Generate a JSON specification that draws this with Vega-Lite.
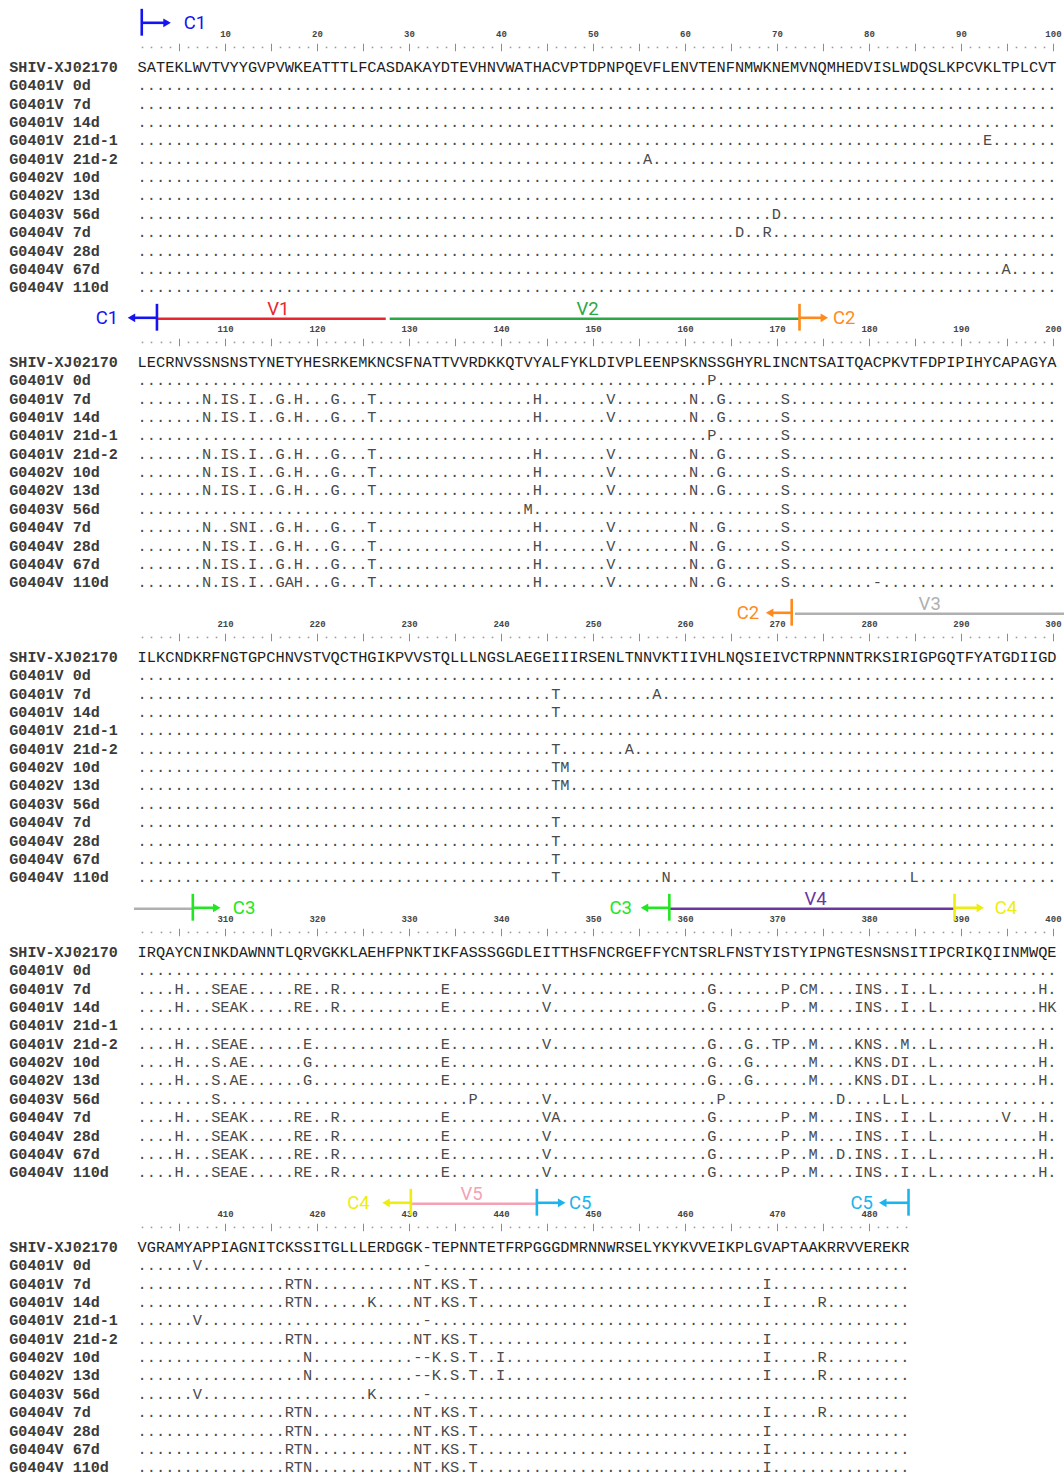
{
  "$schema": "https://vega.github.io/schema/vega-lite/v6.json",
  "padding": {"left": 0, "top": 2.4, "right": 0, "bottom": 0},
  "background": "white",
  "spacing": 0,
  "bounds": "flush",
  "config": {"view": {"stroke": null}},
  "datasets": {
    "rows": [
      {"block": 1, "row": 0, "start": 1, "name": "SHIV-XJ02170", "seq": "SATEKLWVTVYYGVPVWKEATTTLFCASDAKAYDTEVHNVWATHACVPTDPNPQEVFLENVTENFNMWKNEMVNQMHEDVISLWDQSLKPCVKLTPLCVT"},
      {"block": 1, "row": 1, "start": 1, "name": "G0401V 0d", "seq": "...................................................................................................."},
      {"block": 1, "row": 2, "start": 1, "name": "G0401V 7d", "seq": "...................................................................................................."},
      {"block": 1, "row": 3, "start": 1, "name": "G0401V 14d", "seq": "...................................................................................................."},
      {"block": 1, "row": 4, "start": 1, "name": "G0401V 21d-1", "seq": "............................................................................................E......."},
      {"block": 1, "row": 5, "start": 1, "name": "G0401V 21d-2", "seq": ".......................................................A............................................"},
      {"block": 1, "row": 6, "start": 1, "name": "G0402V 10d", "seq": "...................................................................................................."},
      {"block": 1, "row": 7, "start": 1, "name": "G0402V 13d", "seq": "...................................................................................................."},
      {"block": 1, "row": 8, "start": 1, "name": "G0403V 56d", "seq": ".....................................................................D.............................."},
      {"block": 1, "row": 9, "start": 1, "name": "G0404V 7d", "seq": ".................................................................D..R..............................."},
      {"block": 1, "row": 10, "start": 1, "name": "G0404V 28d", "seq": "...................................................................................................."},
      {"block": 1, "row": 11, "start": 1, "name": "G0404V 67d", "seq": "..............................................................................................A....."},
      {"block": 1, "row": 12, "start": 1, "name": "G0404V 110d", "seq": "...................................................................................................."},

      {"block": 2, "row": 0, "start": 101, "name": "SHIV-XJ02170", "seq": "LECRNVSSNSNSTYNETYHESRKEMKNCSFNATTVVRDKKQTVYALFYKLDIVPLEENPSKNSSGHYRLINCNTSAITQACPKVTFDPIPIHYCAPAGYA"},
      {"block": 2, "row": 1, "start": 101, "name": "G0401V 0d", "seq": "..............................................................P....................................."},
      {"block": 2, "row": 2, "start": 101, "name": "G0401V 7d", "seq": ".......N.IS.I..G.H...G...T.................H.......V........N..G......S............................."},
      {"block": 2, "row": 3, "start": 101, "name": "G0401V 14d", "seq": ".......N.IS.I..G.H...G...T.................H.......V........N..G......S............................."},
      {"block": 2, "row": 4, "start": 101, "name": "G0401V 21d-1", "seq": "..............................................................P.......S............................."},
      {"block": 2, "row": 5, "start": 101, "name": "G0401V 21d-2", "seq": ".......N.IS.I..G.H...G...T.................H.......V........N..G......S............................."},
      {"block": 2, "row": 6, "start": 101, "name": "G0402V 10d", "seq": ".......N.IS.I..G.H...G...T.................H.......V........N..G......S............................."},
      {"block": 2, "row": 7, "start": 101, "name": "G0402V 13d", "seq": ".......N.IS.I..G.H...G...T.................H.......V........N..G......S............................."},
      {"block": 2, "row": 8, "start": 101, "name": "G0403V 56d", "seq": "..........................................M...........................S............................."},
      {"block": 2, "row": 9, "start": 101, "name": "G0404V 7d", "seq": ".......N..SNI..G.H...G...T.................H.......V........N..G......S............................."},
      {"block": 2, "row": 10, "start": 101, "name": "G0404V 28d", "seq": ".......N.IS.I..G.H...G...T.................H.......V........N..G......S............................."},
      {"block": 2, "row": 11, "start": 101, "name": "G0404V 67d", "seq": ".......N.IS.I..G.H...G...T.................H.......V........N..G......S............................."},
      {"block": 2, "row": 12, "start": 101, "name": "G0404V 110d", "seq": ".......N.IS.I..GAH...G...T.................H.......V........N..G......S.........-..................."},

      {"block": 3, "row": 0, "start": 201, "name": "SHIV-XJ02170", "seq": "ILKCNDKRFNGTGPCHNVSTVQCTHGIKPVVSTQLLLNGSLAEGEIIIRSENLTNNVKTIIVHLNQSIEIVCTRPNNNTRKSIRIGPGQTFYATGDIIGD"},
      {"block": 3, "row": 1, "start": 201, "name": "G0401V 0d", "seq": "...................................................................................................."},
      {"block": 3, "row": 2, "start": 201, "name": "G0401V 7d", "seq": ".............................................T..........A..........................................."},
      {"block": 3, "row": 3, "start": 201, "name": "G0401V 14d", "seq": ".............................................T......................................................"},
      {"block": 3, "row": 4, "start": 201, "name": "G0401V 21d-1", "seq": "...................................................................................................."},
      {"block": 3, "row": 5, "start": 201, "name": "G0401V 21d-2", "seq": ".............................................T.......A.............................................."},
      {"block": 3, "row": 6, "start": 201, "name": "G0402V 10d", "seq": ".............................................TM....................................................."},
      {"block": 3, "row": 7, "start": 201, "name": "G0402V 13d", "seq": ".............................................TM....................................................."},
      {"block": 3, "row": 8, "start": 201, "name": "G0403V 56d", "seq": "...................................................................................................."},
      {"block": 3, "row": 9, "start": 201, "name": "G0404V 7d", "seq": ".............................................T......................................................"},
      {"block": 3, "row": 10, "start": 201, "name": "G0404V 28d", "seq": ".............................................T......................................................"},
      {"block": 3, "row": 11, "start": 201, "name": "G0404V 67d", "seq": ".............................................T......................................................"},
      {"block": 3, "row": 12, "start": 201, "name": "G0404V 110d", "seq": ".............................................T...........N..........................L..............."},

      {"block": 4, "row": 0, "start": 301, "name": "SHIV-XJ02170", "seq": "IRQAYCNINKDAWNNTLQRVGKKLAEHFPNKTIKFASSSGGDLEITTHSFNCRGEFFYCNTSRLFNSTYISTYIPNGTESNSNSITIPCRIKQIINMWQE"},
      {"block": 4, "row": 1, "start": 301, "name": "G0401V 0d", "seq": "...................................................................................................."},
      {"block": 4, "row": 2, "start": 301, "name": "G0401V 7d", "seq": "....H...SEAE.....RE..R...........E..........V.................G.......P.CM....INS..I..L...........H."},
      {"block": 4, "row": 3, "start": 301, "name": "G0401V 14d", "seq": "....H...SEAK.....RE..R...........E..........V.................G.......P..M....INS..I..L...........HK"},
      {"block": 4, "row": 4, "start": 301, "name": "G0401V 21d-1", "seq": "...................................................................................................."},
      {"block": 4, "row": 5, "start": 301, "name": "G0401V 21d-2", "seq": "....H...SEAE......E..............E..........V.................G...G..TP..M....KNS..M..L...........H."},
      {"block": 4, "row": 6, "start": 301, "name": "G0402V 10d", "seq": "....H...S.AE......G..............E............................G...G......M....KNS.DI..L...........H."},
      {"block": 4, "row": 7, "start": 301, "name": "G0402V 13d", "seq": "....H...S.AE......G..............E............................G...G......M....KNS.DI..L...........H."},
      {"block": 4, "row": 8, "start": 301, "name": "G0403V 56d", "seq": "........S...........................P.......V..................P............D....L.L................"},
      {"block": 4, "row": 9, "start": 301, "name": "G0404V 7d", "seq": "....H...SEAK.....RE..R...........E..........VA................G.......P..M....INS..I..L.......V...H."},
      {"block": 4, "row": 10, "start": 301, "name": "G0404V 28d", "seq": "....H...SEAK.....RE..R...........E..........V.................G.......P..M....INS..I..L...........H."},
      {"block": 4, "row": 11, "start": 301, "name": "G0404V 67d", "seq": "....H...SEAK.....RE..R...........E..........V.................G.......P..M..D.INS..I..L...........H."},
      {"block": 4, "row": 12, "start": 301, "name": "G0404V 110d", "seq": "....H...SEAE.....RE..R...........E..........V.................G.......P..M....INS..I..L...........H."},

      {"block": 5, "row": 0, "start": 401, "name": "SHIV-XJ02170", "seq": "VGRAMYAPPIAGNITCKSSITGLLLERDGGK-TEPNNTETFRPGGGDMRNNWRSELYKYKVVEIKPLGVAPTAAKRRVVEREKR"},
      {"block": 5, "row": 1, "start": 401, "name": "G0401V 0d", "seq": "......V........................-...................................................."},
      {"block": 5, "row": 2, "start": 401, "name": "G0401V 7d", "seq": "................RTN...........NT.KS.T...............................I..............."},
      {"block": 5, "row": 3, "start": 401, "name": "G0401V 14d", "seq": "................RTN......K....NT.KS.T...............................I.....R........."},
      {"block": 5, "row": 4, "start": 401, "name": "G0401V 21d-1", "seq": "......V........................-...................................................."},
      {"block": 5, "row": 5, "start": 401, "name": "G0401V 21d-2", "seq": "................RTN...........NT.KS.T...............................I..............."},
      {"block": 5, "row": 6, "start": 401, "name": "G0402V 10d", "seq": "..................N...........--K.S.T..I............................I.....R........."},
      {"block": 5, "row": 7, "start": 401, "name": "G0402V 13d", "seq": "..................N...........--K.S.T..I............................I.....R........."},
      {"block": 5, "row": 8, "start": 401, "name": "G0403V 56d", "seq": "......V..................K.....-...................................................."},
      {"block": 5, "row": 9, "start": 401, "name": "G0404V 7d", "seq": "................RTN...........NT.KS.T...............................I.....R........."},
      {"block": 5, "row": 10, "start": 401, "name": "G0404V 28d", "seq": "................RTN...........NT.KS.T...............................I..............."},
      {"block": 5, "row": 11, "start": 401, "name": "G0404V 67d", "seq": "................RTN...........NT.KS.T...............................I..............."},
      {"block": 5, "row": 12, "start": 401, "name": "G0404V 110d", "seq": "................RTN...........NT.KS.T...............................I..............."}
    ],
    "ann": [
      {"block": 1, "region": "C1", "kind": "bar", "from": 0.95},
      {"block": 1, "region": "C1", "kind": "arrow", "from": 0.95, "to": 3.7, "dir": "right"},
      {"block": 1, "region": "C1", "kind": "label", "from": 6.74},
      {"block": 2, "region": "C1", "kind": "label", "from": 97.17},
      {"block": 2, "region": "C1", "kind": "arrow", "from": 102.6, "to": 99.83, "dir": "left"},
      {"block": 2, "region": "V1", "kind": "line", "from": 102.6, "to": 127.47},
      {"block": 2, "region": "V1", "kind": "label", "from": 115.8},
      {"block": 2, "region": "V2", "kind": "line", "from": 127.9, "to": 172.45},
      {"block": 2, "region": "V2", "kind": "label", "from": 149.4},
      {"block": 2, "region": "C1", "kind": "bar", "from": 102.6},
      {"block": 2, "region": "C2", "kind": "bar", "from": 172.45},
      {"block": 2, "region": "C2", "kind": "arrow", "from": 172.45, "to": 175.15, "dir": "right"},
      {"block": 2, "region": "C2", "kind": "label", "from": 177.3},
      {"block": 3, "region": "C2", "kind": "label", "from": 266.85},
      {"block": 3, "region": "C2", "kind": "arrow", "from": 271.6, "to": 269.2, "dir": "left"},
      {"block": 3, "region": "V3", "kind": "line", "from": 271.95, "to": 301.2},
      {"block": 3, "region": "V3", "kind": "label", "from": 286.6},
      {"block": 3, "region": "C2", "kind": "bar", "from": 271.6},
      {"block": 4, "region": "V3", "kind": "line", "from": 300.1, "to": 306.5},
      {"block": 4, "region": "C3", "kind": "bar", "from": 306.5},
      {"block": 4, "region": "C3", "kind": "arrow", "from": 306.5, "to": 309.1, "dir": "right"},
      {"block": 4, "region": "C3", "kind": "label", "from": 312.07},
      {"block": 4, "region": "C3", "kind": "label", "from": 353.0},
      {"block": 4, "region": "C3", "kind": "arrow", "from": 358.3, "to": 355.6, "dir": "left"},
      {"block": 4, "region": "V4", "kind": "line", "from": 358.3, "to": 389.3},
      {"block": 4, "region": "V4", "kind": "label", "from": 374.2},
      {"block": 4, "region": "C3", "kind": "bar", "from": 358.3},
      {"block": 4, "region": "C4", "kind": "bar", "from": 389.3},
      {"block": 4, "region": "C4", "kind": "arrow", "from": 389.3, "to": 392.1, "dir": "right"},
      {"block": 4, "region": "C4", "kind": "label", "from": 394.9},
      {"block": 5, "region": "C4", "kind": "label", "from": 424.5},
      {"block": 5, "region": "C4", "kind": "arrow", "from": 430.2, "to": 427.5, "dir": "left"},
      {"block": 5, "region": "V5", "kind": "line", "from": 430.2, "to": 443.9},
      {"block": 5, "region": "V5", "kind": "label", "from": 436.8},
      {"block": 5, "region": "C4", "kind": "bar", "from": 430.2},
      {"block": 5, "region": "C5", "kind": "bar", "from": 443.9},
      {"block": 5, "region": "C5", "kind": "arrow", "from": 443.9, "to": 446.6, "dir": "right"},
      {"block": 5, "region": "C5", "kind": "label", "from": 448.6},
      {"block": 5, "region": "C5", "kind": "label", "from": 479.2},
      {"block": 5, "region": "C5", "kind": "arrow", "from": 484.3, "to": 481.5, "dir": "left"},
      {"block": 5, "region": "C5", "kind": "bar", "from": 484.3}
    ]
  },
  "vconcat": [
    {
      "width": 1064, "height": 294.15,
      "resolve": {"axis": {"x": "independent"}},
      "layer": [
        {"data": {"name": "rows"}, "transform": [{"filter": "datum.block == 1"}],
         "mark": {"type": "text", "font": "Liberation Mono", "fontSize": 15.33, "align": "left", "baseline": "middle", "dx": -4.6},
         "encoding": {
           "x": {"field": "start", "type": "quantitative", "scale": {"domain": [-14.46, 101.2], "nice": false, "zero": false},
                 "axis": {"orient": "top", "offset": -48.35, "values": [5,10,15,20,25,30,35,40,45,50,55,60,65,70,75,80,85,90,95,100], "tickSize": 7.5, "tickWidth": 1, "tickColor": "#8c8c8c", "domain": false, "grid": false, "labelExpr": "datum.value % 10 ? '' : datum.label", "labelFont": "Liberation Mono", "labelFontSize": 9, "labelFontWeight": "bold", "labelColor": "#444444", "labelPadding": 5, "labelFlush": false, "labelOverlap": false, "title": null}},
           "y": {"field": "row", "type": "quantitative", "scale": {"domain": [-3.5, 12.5], "reverse": true, "nice": false, "zero": false}, "axis": null},
           "text": {"field": "seq"},
           "color": {"condition": {"test": "datum.row == 0", "value": "#1e1e1e"}, "value": "#4a4a4a"}
         }},
        {"data": {"name": "rows"}, "transform": [{"filter": "datum.block == 1"}],
         "mark": {"type": "text", "font": "Liberation Mono", "fontWeight": "bold", "fontSize": 15.1, "align": "left", "baseline": "middle", "color": "#3a3a3a"},
         "encoding": {
           "x": {"datum": -13.45, "type": "quantitative", "axis": {"orient": "top", "offset": -45.35, "tickCount": 116, "tickSize": 1.6, "tickWidth": 1.6, "tickColor": "#9a9a9a", "tickOpacity": {"condition": {"test": "datum.value < 1 || datum.value > 100 || datum.value % 5 == 0", "value": 0}, "value": 1}, "labels": false, "domain": false, "grid": false, "title": null}},
           "y": {"field": "row", "type": "quantitative", "axis": null},
           "text": {"field": "name"}
         }},
        {"data": {"name": "ann"}, "transform": [{"filter": "datum.block == 1 && datum.kind == 'line'"}],
         "mark": {"type": "rule", "strokeWidth": 2.6},
         "encoding": {"x": {"field": "from", "type": "quantitative", "axis": null}, "x2": {"field": "to"}, "y": {"datum": -2.34, "axis": null},
           "color": {"field": "region", "type": "nominal", "legend": null, "scale": {"domain": ["C1","V1","V2","C2","V3","C3","V4","C4","V5","C5"], "range": ["#1414f2","#e8262d","#2aa845","#ff8a1c","#b0b0b0","#22e622","#6a36a0","#eded10","#f4a2b4","#1cb4ec"]}}}},
        {"data": {"name": "ann"}, "transform": [{"filter": "datum.block == 1 && datum.kind == 'bar'"}],
         "mark": {"type": "rule", "strokeWidth": 2.6},
         "encoding": {"x": {"field": "from", "type": "quantitative", "axis": null}, "y": {"datum": -3.15, "axis": null}, "y2": {"datum": -1.69},
           "color": {"field": "region", "type": "nominal", "legend": null}}},
        {"data": {"name": "ann"}, "transform": [{"filter": "datum.block == 1 && datum.kind == 'arrow'"}],
         "mark": {"type": "rule", "strokeWidth": 2.6},
         "encoding": {"x": {"field": "from", "type": "quantitative", "axis": null}, "x2": {"field": "to"}, "y": {"datum": -2.39, "axis": null},
           "color": {"field": "region", "type": "nominal", "legend": null}}},
        {"data": {"name": "ann"}, "transform": [{"filter": "datum.block == 1 && datum.kind == 'arrow'"}],
         "mark": {"type": "point", "filled": true, "size": 75, "opacity": 1, "strokeWidth": 0},
         "encoding": {"x": {"field": "to", "type": "quantitative", "axis": null}, "y": {"datum": -2.39, "axis": null},
           "shape": {"field": "dir", "type": "nominal", "legend": null, "scale": {"domain": ["right", "left"], "range": ["triangle-right", "triangle-left"]}},
           "color": {"field": "region", "type": "nominal", "legend": null}}},
        {"data": {"name": "ann"}, "transform": [{"filter": "datum.block == 1 && datum.kind == 'label' && substring(datum.region, 0, 1) == 'C'"}],
         "mark": {"type": "text", "font": "Roboto", "fontSize": 18.5, "align": "center", "baseline": "middle"},
         "encoding": {"x": {"field": "from", "type": "quantitative", "axis": null}, "y": {"datum": -2.4, "axis": null}, "text": {"field": "region"},
           "color": {"field": "region", "type": "nominal", "legend": null}}},
        {"data": {"name": "ann"}, "transform": [{"filter": "datum.block == 1 && datum.kind == 'label' && substring(datum.region, 0, 1) == 'V'"}],
         "mark": {"type": "text", "font": "Roboto", "fontSize": 18.5, "align": "center", "baseline": "middle"},
         "encoding": {"x": {"field": "from", "type": "quantitative", "axis": null}, "y": {"datum": -2.88, "axis": null}, "text": {"field": "region"},
           "color": {"field": "region", "type": "nominal", "legend": null}}}
      ]
    },
    {
      "width": 1064, "height": 294.15,
      "resolve": {"axis": {"x": "independent"}},
      "layer": [
        {"data": {"name": "rows"}, "transform": [{"filter": "datum.block == 2"}],
         "mark": {"type": "text", "font": "Liberation Mono", "fontSize": 15.33, "align": "left", "baseline": "middle", "dx": -4.6},
         "encoding": {
           "x": {"field": "start", "type": "quantitative", "scale": {"domain": [85.54, 201.2], "nice": false, "zero": false},
                 "axis": {"orient": "top", "offset": -48.35, "values": [105,110,115,120,125,130,135,140,145,150,155,160,165,170,175,180,185,190,195,200], "tickSize": 7.5, "tickWidth": 1, "tickColor": "#8c8c8c", "domain": false, "grid": false, "labelExpr": "datum.value % 10 ? '' : datum.label", "labelFont": "Liberation Mono", "labelFontSize": 9, "labelFontWeight": "bold", "labelColor": "#444444", "labelPadding": 5, "labelFlush": false, "labelOverlap": false, "title": null}},
           "y": {"field": "row", "type": "quantitative", "scale": {"domain": [-3.5, 12.5], "reverse": true, "nice": false, "zero": false}, "axis": null},
           "text": {"field": "seq"},
           "color": {"condition": {"test": "datum.row == 0", "value": "#1e1e1e"}, "value": "#4a4a4a"}
         }},
        {"data": {"name": "rows"}, "transform": [{"filter": "datum.block == 2"}],
         "mark": {"type": "text", "font": "Liberation Mono", "fontWeight": "bold", "fontSize": 15.1, "align": "left", "baseline": "middle", "color": "#3a3a3a"},
         "encoding": {
           "x": {"datum": 86.55, "type": "quantitative", "axis": {"orient": "top", "offset": -45.35, "tickCount": 116, "tickSize": 1.6, "tickWidth": 1.6, "tickColor": "#9a9a9a", "tickOpacity": {"condition": {"test": "datum.value < 101 || datum.value > 200 || datum.value % 5 == 0", "value": 0}, "value": 1}, "labels": false, "domain": false, "grid": false, "title": null}},
           "y": {"field": "row", "type": "quantitative", "axis": null},
           "text": {"field": "name"}
         }},
        {"data": {"name": "ann"}, "transform": [{"filter": "datum.block == 2 && datum.kind == 'line'"}],
         "mark": {"type": "rule", "strokeWidth": 2.6},
         "encoding": {"x": {"field": "from", "type": "quantitative", "axis": null}, "x2": {"field": "to"}, "y": {"datum": -2.34, "axis": null},
           "color": {"field": "region", "type": "nominal", "legend": null}}},
        {"data": {"name": "ann"}, "transform": [{"filter": "datum.block == 2 && datum.kind == 'bar'"}],
         "mark": {"type": "rule", "strokeWidth": 2.6},
         "encoding": {"x": {"field": "from", "type": "quantitative", "axis": null}, "y": {"datum": -3.15, "axis": null}, "y2": {"datum": -1.69},
           "color": {"field": "region", "type": "nominal", "legend": null}}},
        {"data": {"name": "ann"}, "transform": [{"filter": "datum.block == 2 && datum.kind == 'arrow'"}],
         "mark": {"type": "rule", "strokeWidth": 2.6},
         "encoding": {"x": {"field": "from", "type": "quantitative", "axis": null}, "x2": {"field": "to"}, "y": {"datum": -2.39, "axis": null},
           "color": {"field": "region", "type": "nominal", "legend": null}}},
        {"data": {"name": "ann"}, "transform": [{"filter": "datum.block == 2 && datum.kind == 'arrow'"}],
         "mark": {"type": "point", "filled": true, "size": 75, "opacity": 1, "strokeWidth": 0},
         "encoding": {"x": {"field": "to", "type": "quantitative", "axis": null}, "y": {"datum": -2.39, "axis": null},
           "shape": {"field": "dir", "type": "nominal", "legend": null, "scale": {"domain": ["right", "left"], "range": ["triangle-right", "triangle-left"]}},
           "color": {"field": "region", "type": "nominal", "legend": null}}},
        {"data": {"name": "ann"}, "transform": [{"filter": "datum.block == 2 && datum.kind == 'label' && substring(datum.region, 0, 1) == 'C'"}],
         "mark": {"type": "text", "font": "Roboto", "fontSize": 18.5, "align": "center", "baseline": "middle"},
         "encoding": {"x": {"field": "from", "type": "quantitative", "axis": null}, "y": {"datum": -2.4, "axis": null}, "text": {"field": "region"},
           "color": {"field": "region", "type": "nominal", "legend": null}}},
        {"data": {"name": "ann"}, "transform": [{"filter": "datum.block == 2 && datum.kind == 'label' && substring(datum.region, 0, 1) == 'V'"}],
         "mark": {"type": "text", "font": "Roboto", "fontSize": 18.5, "align": "center", "baseline": "middle"},
         "encoding": {"x": {"field": "from", "type": "quantitative", "axis": null}, "y": {"datum": -2.88, "axis": null}, "text": {"field": "region"},
           "color": {"field": "region", "type": "nominal", "legend": null}}}
      ]
    },
    {
      "width": 1064, "height": 294.15,
      "resolve": {"axis": {"x": "independent"}},
      "layer": [
        {"data": {"name": "rows"}, "transform": [{"filter": "datum.block == 3"}],
         "mark": {"type": "text", "font": "Liberation Mono", "fontSize": 15.33, "align": "left", "baseline": "middle", "dx": -4.6},
         "encoding": {
           "x": {"field": "start", "type": "quantitative", "scale": {"domain": [185.54, 301.2], "nice": false, "zero": false},
                 "axis": {"orient": "top", "offset": -48.35, "values": [205,210,215,220,225,230,235,240,245,250,255,260,265,270,275,280,285,290,295,300], "tickSize": 7.5, "tickWidth": 1, "tickColor": "#8c8c8c", "domain": false, "grid": false, "labelExpr": "datum.value % 10 ? '' : datum.label", "labelFont": "Liberation Mono", "labelFontSize": 9, "labelFontWeight": "bold", "labelColor": "#444444", "labelPadding": 5, "labelFlush": false, "labelOverlap": false, "title": null}},
           "y": {"field": "row", "type": "quantitative", "scale": {"domain": [-3.5, 12.5], "reverse": true, "nice": false, "zero": false}, "axis": null},
           "text": {"field": "seq"},
           "color": {"condition": {"test": "datum.row == 0", "value": "#1e1e1e"}, "value": "#4a4a4a"}
         }},
        {"data": {"name": "rows"}, "transform": [{"filter": "datum.block == 3"}],
         "mark": {"type": "text", "font": "Liberation Mono", "fontWeight": "bold", "fontSize": 15.1, "align": "left", "baseline": "middle", "color": "#3a3a3a"},
         "encoding": {
           "x": {"datum": 186.55, "type": "quantitative", "axis": {"orient": "top", "offset": -45.35, "tickCount": 116, "tickSize": 1.6, "tickWidth": 1.6, "tickColor": "#9a9a9a", "tickOpacity": {"condition": {"test": "datum.value < 201 || datum.value > 300 || datum.value % 5 == 0", "value": 0}, "value": 1}, "labels": false, "domain": false, "grid": false, "title": null}},
           "y": {"field": "row", "type": "quantitative", "axis": null},
           "text": {"field": "name"}
         }},
        {"data": {"name": "ann"}, "transform": [{"filter": "datum.block == 3 && datum.kind == 'line'"}],
         "mark": {"type": "rule", "strokeWidth": 2.6},
         "encoding": {"x": {"field": "from", "type": "quantitative", "axis": null}, "x2": {"field": "to"}, "y": {"datum": -2.34, "axis": null},
           "color": {"field": "region", "type": "nominal", "legend": null}}},
        {"data": {"name": "ann"}, "transform": [{"filter": "datum.block == 3 && datum.kind == 'bar'"}],
         "mark": {"type": "rule", "strokeWidth": 2.6},
         "encoding": {"x": {"field": "from", "type": "quantitative", "axis": null}, "y": {"datum": -3.15, "axis": null}, "y2": {"datum": -1.69},
           "color": {"field": "region", "type": "nominal", "legend": null}}},
        {"data": {"name": "ann"}, "transform": [{"filter": "datum.block == 3 && datum.kind == 'arrow'"}],
         "mark": {"type": "rule", "strokeWidth": 2.6},
         "encoding": {"x": {"field": "from", "type": "quantitative", "axis": null}, "x2": {"field": "to"}, "y": {"datum": -2.39, "axis": null},
           "color": {"field": "region", "type": "nominal", "legend": null}}},
        {"data": {"name": "ann"}, "transform": [{"filter": "datum.block == 3 && datum.kind == 'arrow'"}],
         "mark": {"type": "point", "filled": true, "size": 75, "opacity": 1, "strokeWidth": 0},
         "encoding": {"x": {"field": "to", "type": "quantitative", "axis": null}, "y": {"datum": -2.39, "axis": null},
           "shape": {"field": "dir", "type": "nominal", "legend": null, "scale": {"domain": ["right", "left"], "range": ["triangle-right", "triangle-left"]}},
           "color": {"field": "region", "type": "nominal", "legend": null}}},
        {"data": {"name": "ann"}, "transform": [{"filter": "datum.block == 3 && datum.kind == 'label' && substring(datum.region, 0, 1) == 'C'"}],
         "mark": {"type": "text", "font": "Roboto", "fontSize": 18.5, "align": "center", "baseline": "middle"},
         "encoding": {"x": {"field": "from", "type": "quantitative", "axis": null}, "y": {"datum": -2.4, "axis": null}, "text": {"field": "region"},
           "color": {"field": "region", "type": "nominal", "legend": null}}},
        {"data": {"name": "ann"}, "transform": [{"filter": "datum.block == 3 && datum.kind == 'label' && substring(datum.region, 0, 1) == 'V'"}],
         "mark": {"type": "text", "font": "Roboto", "fontSize": 18.5, "align": "center", "baseline": "middle"},
         "encoding": {"x": {"field": "from", "type": "quantitative", "axis": null}, "y": {"datum": -2.88, "axis": null}, "text": {"field": "region"},
           "color": {"field": "region", "type": "nominal", "legend": null}}}
      ]
    },
    {
      "width": 1064, "height": 294.15,
      "resolve": {"axis": {"x": "independent"}},
      "layer": [
        {"data": {"name": "rows"}, "transform": [{"filter": "datum.block == 4"}],
         "mark": {"type": "text", "font": "Liberation Mono", "fontSize": 15.33, "align": "left", "baseline": "middle", "dx": -4.6},
         "encoding": {
           "x": {"field": "start", "type": "quantitative", "scale": {"domain": [285.54, 401.2], "nice": false, "zero": false},
                 "axis": {"orient": "top", "offset": -48.35, "values": [305,310,315,320,325,330,335,340,345,350,355,360,365,370,375,380,385,390,395,400], "tickSize": 7.5, "tickWidth": 1, "tickColor": "#8c8c8c", "domain": false, "grid": false, "labelExpr": "datum.value % 10 ? '' : datum.label", "labelFont": "Liberation Mono", "labelFontSize": 9, "labelFontWeight": "bold", "labelColor": "#444444", "labelPadding": 5, "labelFlush": false, "labelOverlap": false, "title": null}},
           "y": {"field": "row", "type": "quantitative", "scale": {"domain": [-3.5, 12.5], "reverse": true, "nice": false, "zero": false}, "axis": null},
           "text": {"field": "seq"},
           "color": {"condition": {"test": "datum.row == 0", "value": "#1e1e1e"}, "value": "#4a4a4a"}
         }},
        {"data": {"name": "rows"}, "transform": [{"filter": "datum.block == 4"}],
         "mark": {"type": "text", "font": "Liberation Mono", "fontWeight": "bold", "fontSize": 15.1, "align": "left", "baseline": "middle", "color": "#3a3a3a"},
         "encoding": {
           "x": {"datum": 286.55, "type": "quantitative", "axis": {"orient": "top", "offset": -45.35, "tickCount": 116, "tickSize": 1.6, "tickWidth": 1.6, "tickColor": "#9a9a9a", "tickOpacity": {"condition": {"test": "datum.value < 301 || datum.value > 400 || datum.value % 5 == 0", "value": 0}, "value": 1}, "labels": false, "domain": false, "grid": false, "title": null}},
           "y": {"field": "row", "type": "quantitative", "axis": null},
           "text": {"field": "name"}
         }},
        {"data": {"name": "ann"}, "transform": [{"filter": "datum.block == 4 && datum.kind == 'line'"}],
         "mark": {"type": "rule", "strokeWidth": 2.6},
         "encoding": {"x": {"field": "from", "type": "quantitative", "axis": null}, "x2": {"field": "to"}, "y": {"datum": -2.34, "axis": null},
           "color": {"field": "region", "type": "nominal", "legend": null}}},
        {"data": {"name": "ann"}, "transform": [{"filter": "datum.block == 4 && datum.kind == 'bar'"}],
         "mark": {"type": "rule", "strokeWidth": 2.6},
         "encoding": {"x": {"field": "from", "type": "quantitative", "axis": null}, "y": {"datum": -3.15, "axis": null}, "y2": {"datum": -1.69},
           "color": {"field": "region", "type": "nominal", "legend": null}}},
        {"data": {"name": "ann"}, "transform": [{"filter": "datum.block == 4 && datum.kind == 'arrow'"}],
         "mark": {"type": "rule", "strokeWidth": 2.6},
         "encoding": {"x": {"field": "from", "type": "quantitative", "axis": null}, "x2": {"field": "to"}, "y": {"datum": -2.39, "axis": null},
           "color": {"field": "region", "type": "nominal", "legend": null}}},
        {"data": {"name": "ann"}, "transform": [{"filter": "datum.block == 4 && datum.kind == 'arrow'"}],
         "mark": {"type": "point", "filled": true, "size": 75, "opacity": 1, "strokeWidth": 0},
         "encoding": {"x": {"field": "to", "type": "quantitative", "axis": null}, "y": {"datum": -2.39, "axis": null},
           "shape": {"field": "dir", "type": "nominal", "legend": null, "scale": {"domain": ["right", "left"], "range": ["triangle-right", "triangle-left"]}},
           "color": {"field": "region", "type": "nominal", "legend": null}}},
        {"data": {"name": "ann"}, "transform": [{"filter": "datum.block == 4 && datum.kind == 'label' && substring(datum.region, 0, 1) == 'C'"}],
         "mark": {"type": "text", "font": "Roboto", "fontSize": 18.5, "align": "center", "baseline": "middle"},
         "encoding": {"x": {"field": "from", "type": "quantitative", "axis": null}, "y": {"datum": -2.4, "axis": null}, "text": {"field": "region"},
           "color": {"field": "region", "type": "nominal", "legend": null}}},
        {"data": {"name": "ann"}, "transform": [{"filter": "datum.block == 4 && datum.kind == 'label' && substring(datum.region, 0, 1) == 'V'"}],
         "mark": {"type": "text", "font": "Roboto", "fontSize": 18.5, "align": "center", "baseline": "middle"},
         "encoding": {"x": {"field": "from", "type": "quantitative", "axis": null}, "y": {"datum": -2.88, "axis": null}, "text": {"field": "region"},
           "color": {"field": "region", "type": "nominal", "legend": null}}}
      ]
    },
    {
      "width": 1064, "height": 294.15,
      "resolve": {"axis": {"x": "independent"}},
      "layer": [
        {"data": {"name": "rows"}, "transform": [{"filter": "datum.block == 5"}],
         "mark": {"type": "text", "font": "Liberation Mono", "fontSize": 15.33, "align": "left", "baseline": "middle", "dx": -4.6},
         "encoding": {
           "x": {"field": "start", "type": "quantitative", "scale": {"domain": [385.54, 501.2], "nice": false, "zero": false},
                 "axis": {"orient": "top", "offset": -48.35, "values": [405,410,415,420,425,430,435,440,445,450,455,460,465,470,475,480], "tickSize": 7.5, "tickWidth": 1, "tickColor": "#8c8c8c", "domain": false, "grid": false, "labelExpr": "datum.value % 10 ? '' : datum.label", "labelFont": "Liberation Mono", "labelFontSize": 9, "labelFontWeight": "bold", "labelColor": "#444444", "labelPadding": 5, "labelFlush": false, "labelOverlap": false, "title": null}},
           "y": {"field": "row", "type": "quantitative", "scale": {"domain": [-3.5, 12.5], "reverse": true, "nice": false, "zero": false}, "axis": null},
           "text": {"field": "seq"},
           "color": {"condition": {"test": "datum.row == 0", "value": "#1e1e1e"}, "value": "#4a4a4a"}
         }},
        {"data": {"name": "rows"}, "transform": [{"filter": "datum.block == 5"}],
         "mark": {"type": "text", "font": "Liberation Mono", "fontWeight": "bold", "fontSize": 15.1, "align": "left", "baseline": "middle", "color": "#3a3a3a"},
         "encoding": {
           "x": {"datum": 386.55, "type": "quantitative", "axis": {"orient": "top", "offset": -45.35, "tickCount": 116, "tickSize": 1.6, "tickWidth": 1.6, "tickColor": "#9a9a9a", "tickOpacity": {"condition": {"test": "datum.value < 401 || datum.value > 484 || datum.value % 5 == 0", "value": 0}, "value": 1}, "labels": false, "domain": false, "grid": false, "title": null}},
           "y": {"field": "row", "type": "quantitative", "axis": null},
           "text": {"field": "name"}
         }},
        {"data": {"name": "ann"}, "transform": [{"filter": "datum.block == 5 && datum.kind == 'line'"}],
         "mark": {"type": "rule", "strokeWidth": 2.6},
         "encoding": {"x": {"field": "from", "type": "quantitative", "axis": null}, "x2": {"field": "to"}, "y": {"datum": -2.34, "axis": null},
           "color": {"field": "region", "type": "nominal", "legend": null}}},
        {"data": {"name": "ann"}, "transform": [{"filter": "datum.block == 5 && datum.kind == 'bar'"}],
         "mark": {"type": "rule", "strokeWidth": 2.6},
         "encoding": {"x": {"field": "from", "type": "quantitative", "axis": null}, "y": {"datum": -3.15, "axis": null}, "y2": {"datum": -1.69},
           "color": {"field": "region", "type": "nominal", "legend": null}}},
        {"data": {"name": "ann"}, "transform": [{"filter": "datum.block == 5 && datum.kind == 'arrow'"}],
         "mark": {"type": "rule", "strokeWidth": 2.6},
         "encoding": {"x": {"field": "from", "type": "quantitative", "axis": null}, "x2": {"field": "to"}, "y": {"datum": -2.39, "axis": null},
           "color": {"field": "region", "type": "nominal", "legend": null}}},
        {"data": {"name": "ann"}, "transform": [{"filter": "datum.block == 5 && datum.kind == 'arrow'"}],
         "mark": {"type": "point", "filled": true, "size": 75, "opacity": 1, "strokeWidth": 0},
         "encoding": {"x": {"field": "to", "type": "quantitative", "axis": null}, "y": {"datum": -2.39, "axis": null},
           "shape": {"field": "dir", "type": "nominal", "legend": null, "scale": {"domain": ["right", "left"], "range": ["triangle-right", "triangle-left"]}},
           "color": {"field": "region", "type": "nominal", "legend": null}}},
        {"data": {"name": "ann"}, "transform": [{"filter": "datum.block == 5 && datum.kind == 'label' && substring(datum.region, 0, 1) == 'C'"}],
         "mark": {"type": "text", "font": "Roboto", "fontSize": 18.5, "align": "center", "baseline": "middle"},
         "encoding": {"x": {"field": "from", "type": "quantitative", "axis": null}, "y": {"datum": -2.4, "axis": null}, "text": {"field": "region"},
           "color": {"field": "region", "type": "nominal", "legend": null}}},
        {"data": {"name": "ann"}, "transform": [{"filter": "datum.block == 5 && datum.kind == 'label' && substring(datum.region, 0, 1) == 'V'"}],
         "mark": {"type": "text", "font": "Roboto", "fontSize": 18.5, "align": "center", "baseline": "middle"},
         "encoding": {"x": {"field": "from", "type": "quantitative", "axis": null}, "y": {"datum": -2.88, "axis": null}, "text": {"field": "region"},
           "color": {"field": "region", "type": "nominal", "legend": null}}}
      ]
    }
  ]
}
